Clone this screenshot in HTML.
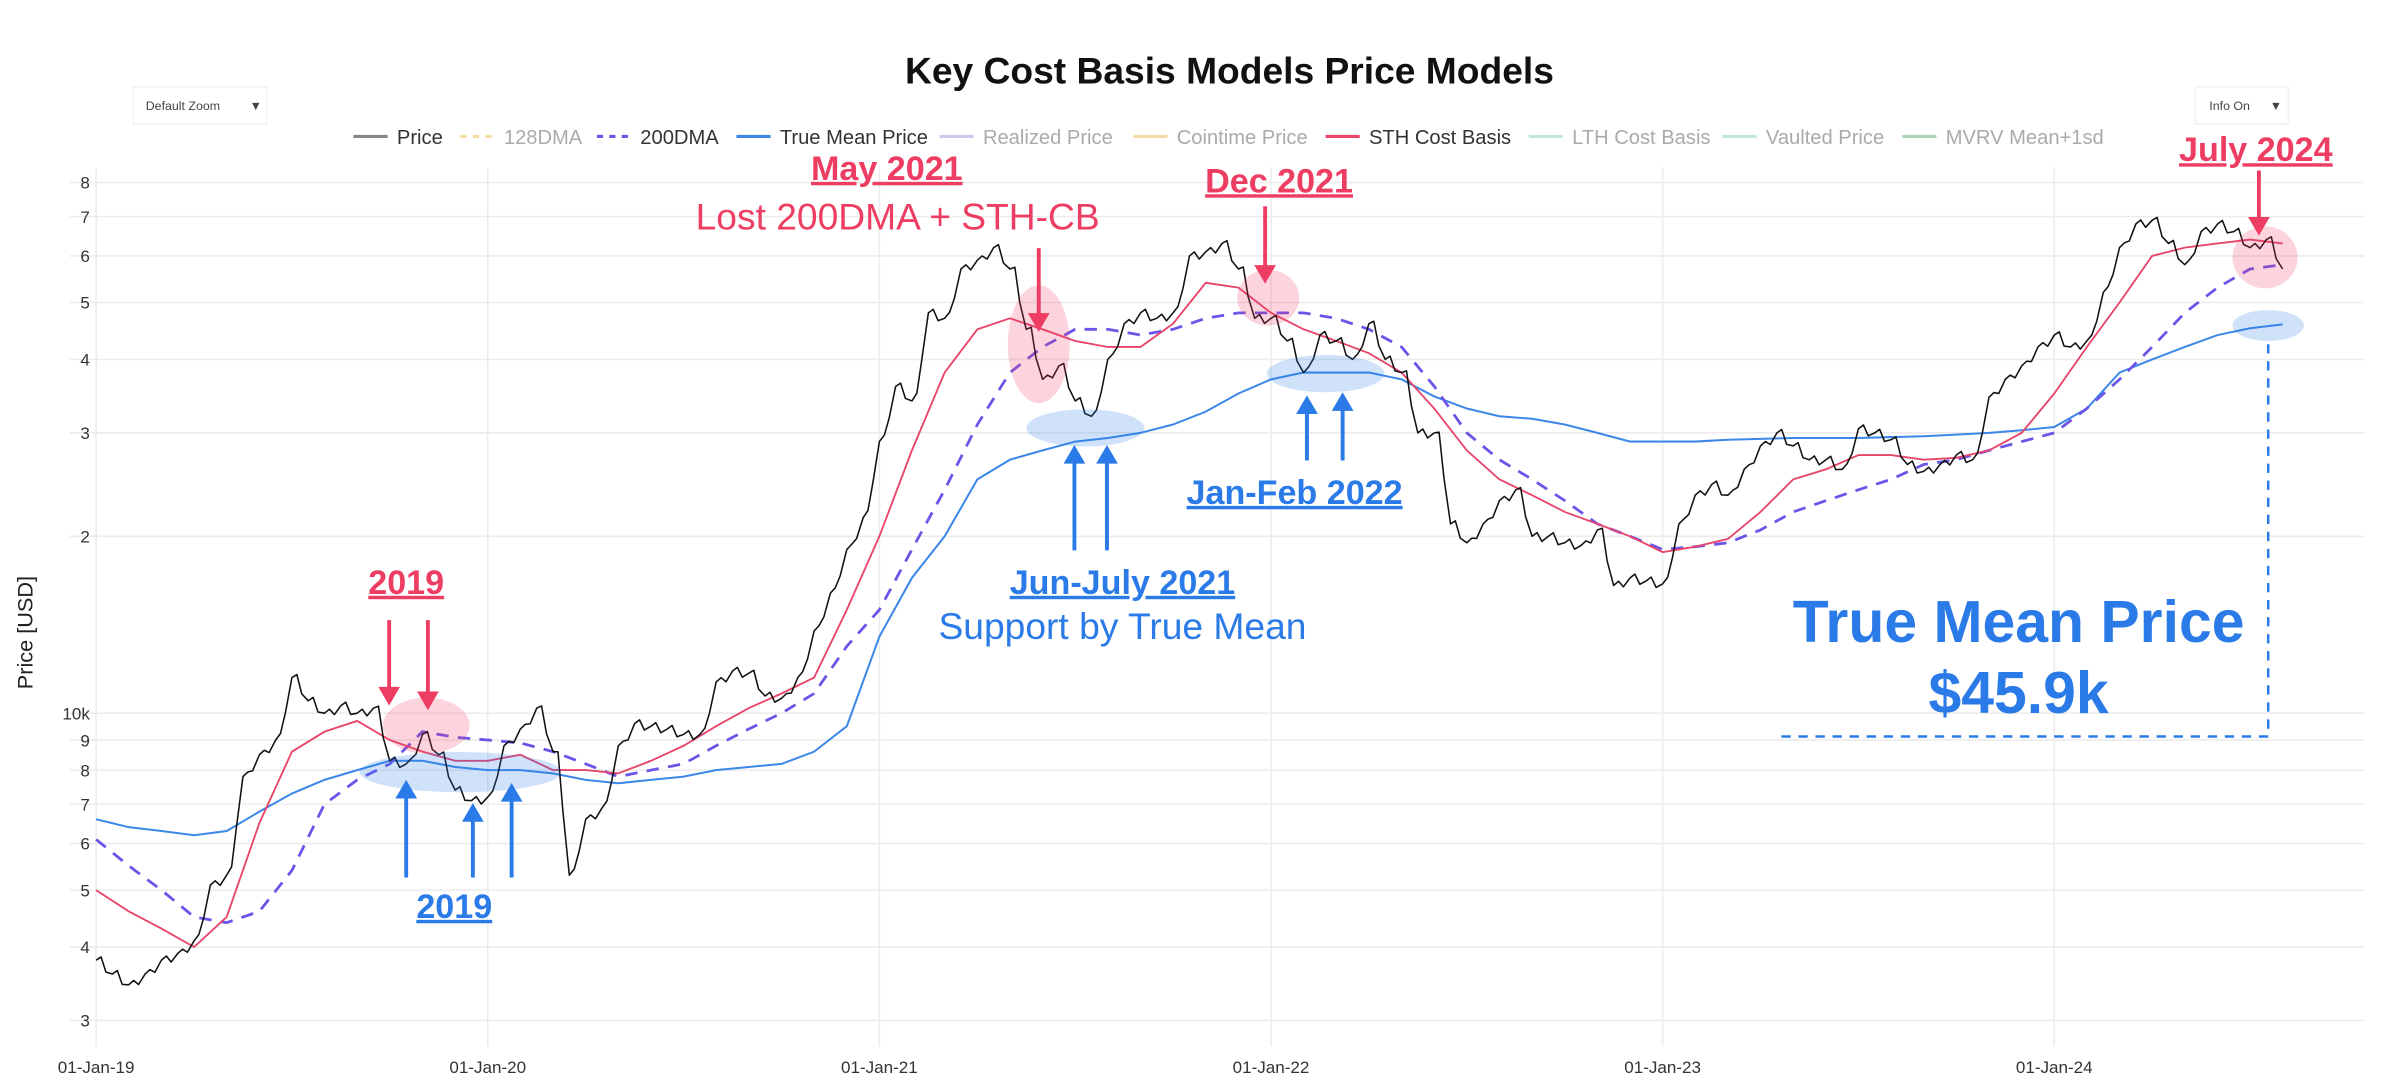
<!DOCTYPE html>
<html><head><meta charset="utf-8"><style>
html,body{margin:0;padding:0;background:#fff;}
svg{display:block;font-family:"Liberation Sans",sans-serif;}
</style></head><body>
<svg id="chart" width="2400" height="1076" viewBox="0 0 1548 694" preserveAspectRatio="none" xmlns="http://www.w3.org/2000/svg">
<rect width="1548" height="694" fill="#fff"/>
<text x="793" y="54" text-anchor="middle" font-size="24" font-weight="bold" fill="#111">Key Cost Basis Models Price Models</text>
<g><rect x="86" y="56" width="86" height="24" fill="#fff" stroke="#f2f2f2"/><text x="94" y="71" font-size="8" fill="#444">Default Zoom</text><text x="161" y="71" font-size="8" fill="#444">▼</text></g>
<g><rect x="1416" y="56" width="60" height="24" fill="#fff" stroke="#f2f2f2"/><text x="1425" y="71" font-size="8" fill="#444">Info On</text><text x="1464" y="71" font-size="8" fill="#444">▼</text></g>
<g id="grid"></g>
<g id="series"></g>
<g id="legend"></g>
<text transform="translate(21,408) rotate(-90)" text-anchor="middle" font-size="14" fill="#222">Price [USD]</text>
<g id="annot"></g>
</svg>
<script>
// Semi-monthly BTC price (k USD), starting 01-Jan-2019
const priceValues=[3.8,3.6,3.45,3.6,3.8,3.9,4.1,5.1,5.3,7.8,8.5,9.0,11.5,10.5,10.0,10.3,10.0,10.2,8.3,8.2,9.2,8.5,7.4,7.1,
7.2,8.8,9.4,10.2,8.6,5.3,6.6,6.9,8.8,9.6,9.5,9.4,9.2,9.2,11.3,11.8,11.7,10.7,10.6,11.5,13.8,16.0,19.0,21.5,
29,36,34,48,47,57,59,62,57,45,37,39,34,32,40,46,48,47,48,60,61,63,57,47,
47,43,38,44,43,40,46,40,38,30,30,21,19.5,21,23,24,20,20,19.5,19.3,20.5,16.5,17,16.8,
16.6,21,23.5,24.5,23.5,26,28.5,30,28.5,27,27,26,30.5,30,29.2,26.5,25.8,26.5,27.5,27,34.5,37,39,42,
44,42,43,52,62,68,69,63,58,66,68,66,62,64,57];
// Monthly model values (k USD), starting Jan-2019
const trueMean=[6.6,6.4,6.3,6.2,6.3,6.8,7.3,7.7,8.0,8.3,8.3,8.1,8.0,8.0,7.9,7.7,7.6,7.7,7.8,8.0,8.1,8.2,8.6,9.5,
13.5,17,20,25,27,28,29,29.4,30,31,32.6,35,37,38,38,38,37,34.6,33,32,31.7,31,30,29,
29,29,29.2,29.3,29.4,29.4,29.4,29.5,29.6,29.8,30,30.3,30.7,33,38,40,42,44,45.2,45.9];
const dma200=[6.1,5.5,5.0,4.5,4.4,4.6,5.4,7.0,7.7,8.2,9.3,9.1,9.0,8.9,8.6,8.2,7.8,8.0,8.2,8.8,9.4,10.0,10.8,13,
15,19,24,31,38,42,45,45,44,45,47,48,48,48,47,45,42,36,30,27,25,23,21,20,
19,19.2,19.5,20.5,22,23,24,25,26.5,27,28,29,30,33,37,42,48,53,57,58];
const sthCB=[5.0,4.6,4.3,4.0,4.5,6.5,8.6,9.3,9.7,9.0,8.6,8.3,8.3,8.5,8.0,8.0,7.9,8.3,8.8,9.5,10.2,10.8,11.5,15,
20,28,38,45,47,45,43,42,42,46,54,53,48,45,43,41,38,33,28,25,23.5,22,21,20,
18.8,19.2,19.8,22,25,26,27.5,27.5,27,27.2,28,30,35,42,50,60,62,63,64,63];
const yTickVals=[3,4,5,6,7,8,9,10,20,30,40,50,60,70,80];
const yTickLabels=["3","4","5","6","7","8","9","10k","2","3","4","5","6","7","8"];
const xTickYears=[2019,2020,2021,2022,2023,2024];
const xTickLabels=["01-Jan-19","01-Jan-20","01-Jan-21","01-Jan-22","01-Jan-23","01-Jan-24"];

const NS="http://www.w3.org/2000/svg";
const X0=62,PXY=252.6,Y10=460,PXD=379;
function xs(yr){return X0+(yr-2019)*PXY;}
function ys(k){return Y10-PXD*Math.log10(k/10);}
function mk(tag,attrs,parent){const e=document.createElementNS(NS,tag);for(const k in attrs)e.setAttribute(k,attrs[k]);parent.appendChild(e);return e;}
const grid=document.getElementById('grid'),ser=document.getElementById('series'),leg=document.getElementById('legend'),an=document.getElementById('annot');

yTickVals.forEach((v,i)=>{
  const l=mk('line',{x1:45,x2:1525,y1:ys(v),y2:ys(v),stroke:'#ececec','stroke-width':1},grid);
  
  
  const t=mk('text',{x:58,y:ys(v)+4,'text-anchor':'end','font-size':11,fill:'#333'},grid);
  
  
  t.textContent=yTickLabels[i];
});
xTickYears.forEach((v,i)=>{
  const l=mk('line',{x1:xs(v),x2:xs(v),y1:108,y2:675,stroke:'#ececec','stroke-width':1},grid);
  
  
  const t=mk('text',{x:xs(v),y:692,'text-anchor':'middle','font-size':11,fill:'#333'},grid);
  
  
  t.textContent=xTickLabels[i];
});

function pathFrom(vals,step){return vals.map((v,i)=>(i?'L':'M')+xs(2019+i*step).toFixed(1)+' '+ys(v).toFixed(1)).join(' ');}
function pricePath(vals){let d='';vals.forEach((v,i)=>{const x=xs(2019+i/24),y=ys(v);d+=(i?'L':'M')+x.toFixed(1)+' '+y.toFixed(1)+' ';if(i<vals.length-1){const n=vals[i+1];const a=xs(2019+(i+0.3)/24),b=xs(2019+(i+0.6)/24);d+='L'+a.toFixed(1)+' '+ys(v*0.975+n*0.04).toFixed(1)+' L'+b.toFixed(1)+' '+ys(v*0.5+n*0.48).toFixed(1)+' ';}});return d;}

let p=mk('path',{d:pathFrom(trueMean,1/12),fill:'none',stroke:'#3c87e8','stroke-width':1.3},ser);


p=mk('path',{d:pathFrom(dma200,1/12),fill:'none',stroke:'#6b55e8','stroke-width':1.8,'stroke-dasharray':'8 6'},ser);


p=mk('path',{d:pathFrom(sthCB,1/12),fill:'none',stroke:'#e8456a','stroke-width':1.2},ser);


p=mk('path',{d:pricePath(priceValues),fill:'none',stroke:'#111','stroke-width':1,'stroke-linejoin':'round'},ser);



const legItems=[["Price","#888",0,1],["128DMA","#f5dca0",1,0],["200DMA","#6b55e8",1,1],["True Mean Price","#3c87e8",0,1],["Realized Price","#cfc8ee",0,0],["Cointime Price","#f5d9a8",0,0],["STH Cost Basis","#e8456a",0,1],["LTH Cost Basis","#bfe8d8",0,0],["Vaulted Price","#bfe8d8",0,0],["MVRV Mean+1sd","#a8d4b8",0,0]];
const legX=[228,297,385,475,606,731,855,986,1111,1227];
legItems.forEach((it,i)=>{
  const g=mk('g',{},leg);
  
  
  mk('line',{x1:legX[i],x2:legX[i]+22,y1:88,y2:88,stroke:it[1],'stroke-width':2,'stroke-dasharray':it[2]?'4 4':'none'},g);
  const t=mk('text',{x:legX[i]+28,y:93,'font-size':13,fill:it[3]?'#333':'#aaa'},g);
  t.textContent=it[0];
});

const RED='#ee3d62',BLUE='#2a7ae8';
function ell(cx,cy,rx,ry,c,name){const e=mk('ellipse',{cx,cy,rx,ry,fill:c,opacity:0.22},an);}
ell(275,468,28,18,RED,'highlight-2019-red');ell(297,498,65,13,BLUE,'highlight-2019-blue');
ell(670,222,20,38,RED,'highlight-may2021');ell(700,276,38,12,BLUE,'highlight-junjul2021');
ell(818,192,20,18,RED,'highlight-dec2021');ell(855,241,38,12,BLUE,'highlight-janfeb2022');
ell(1461,166,21,20,RED,'highlight-july2024');ell(1463,210,23,10,BLUE,'highlight-true-mean-now');
function arrow(x,y1,y2,c){const g=mk('g',{},an);const dir=y2>y1?1:-1;mk('line',{x1:x,x2:x,y1:y1,y2:y2-dir*10,stroke:c,'stroke-width':2.5},g);mk('polygon',{points:`${x-7},${y2-dir*12} ${x+7},${y2-dir*12} ${x},${y2}`,fill:c},g);}
arrow(251,400,455,RED);arrow(276,400,458,RED);
arrow(262,566,503,BLUE);arrow(305,566,518,BLUE);arrow(330,566,505,BLUE);
arrow(670,160,214,RED);arrow(816,133,183,RED);arrow(1457,110,152,RED);
arrow(693,355,287,BLUE);arrow(714,355,287,BLUE);arrow(843,297,255,BLUE);arrow(866,297,253,BLUE);
function txt(x,y,s,c,size,bold,ul,name){const t=mk('text',{x,y,'text-anchor':'middle','font-size':size,'font-weight':bold?'bold':'normal',fill:c,'text-decoration':ul?'underline':'none'},an);t.textContent=s;}
txt(262,383,"2019",RED,22,1,1,'label-2019-red');
txt(293,592,"2019",BLUE,22,1,1,'label-2019-blue');
txt(572,116,"May 2021",RED,22,1,1,'label-may-2021');
txt(579,148,"Lost 200DMA + STH-CB",RED,24,0,0,'label-lost-200dma');
txt(825,124,"Dec 2021",RED,22,1,1,'label-dec-2021');
txt(1455,104,"July 2024",RED,22,1,1,'label-july-2024');
txt(724,383,"Jun-July 2021",BLUE,22,1,1,'label-jun-july-2021');
txt(724,412,"Support by True Mean",BLUE,24,0,0,'label-support-true-mean');
txt(835,325,"Jan-Feb 2022",BLUE,22,1,1,'label-jan-feb-2022');
txt(1302,414,"True Mean Price",BLUE,38,1,0,'label-true-mean-price');
txt(1302,460,"$45.9k",BLUE,38,1,0,'label-true-mean-value');
const dl=mk('polyline',{points:'1463,222 1463,475 1148,475',fill:'none',stroke:BLUE,'stroke-width':1.6,'stroke-dasharray':'6 5'},an);


</script>
</body></html>
